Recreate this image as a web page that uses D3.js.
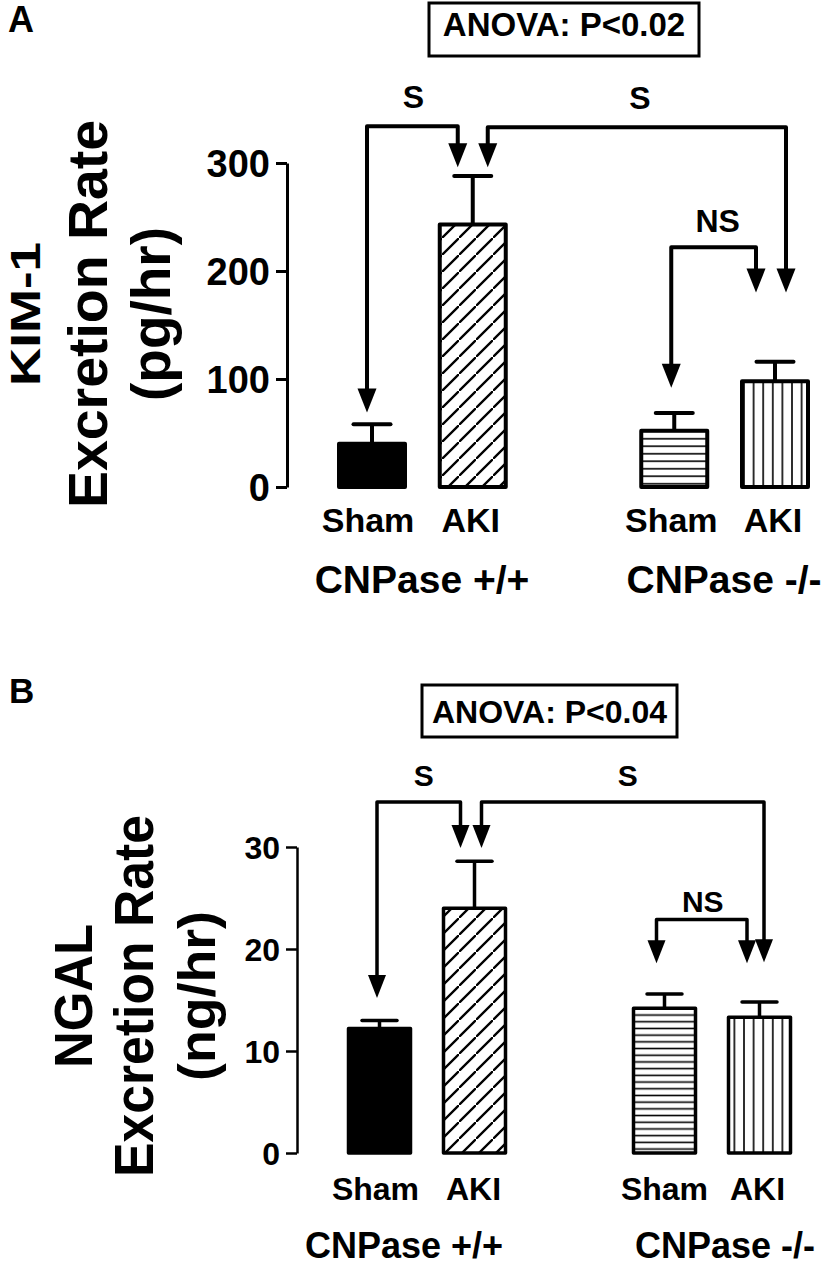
<!DOCTYPE html>
<html><head><meta charset="utf-8">
<script src="https://cdn.jsdelivr.net/npm/d3@7"></script>
<style>
body{margin:0;background:#fff}
svg text{font-family:"Liberation Sans",Arial,Helvetica,sans-serif;font-weight:bold;fill:#000}
</style>
</head><body>
<svg id="chart" width="825" height="1271"></svg>
<script>
// ---------- data ----------
const categories = ["Sham", "AKI", "Sham", "AKI"];
const groups = ["CNPase +/+", "CNPase -/-"];
const slots = [0, 1, 3, 4];
const fills = ["solid", "diag", "hlines", "vlines"];

const kimMean = [40, 243, 52, 98];
const kimSem = [18, 45, 16.5, 18];
const kimTicks = [0, 100, 200, 300];
const kimAnova = "ANOVA: P<0.02";
const kimBrackets = [
  {from: 0, to: 1, level: 334, tipFrom: 69, tipTo: 296, label: "S"},
  {from: 1, to: 3, level: 333, tipFrom: 296, tipTo: 180, label: "S"},
  {from: 2, to: 3, level: 222, tipFrom: 92, tipTo: 180, label: "NS"}
];

const ngalMean = [12.2, 24.0, 14.2, 13.3];
const ngalSem = [0.8, 4.6, 1.4, 1.5];
const ngalTicks = [0, 10, 20, 30];
const ngalAnova = "ANOVA: P<0.04";
const ngalBrackets = [
  {from: 0, to: 1, level: 34.4, tipFrom: 15.2, tipTo: 29.9, label: "S"},
  {from: 1, to: 3, level: 34.4, tipFrom: 29.9, tipTo: 18.7, label: "S"},
  {from: 2, to: 3, level: 22.9, tipFrom: 18.6, tipTo: 18.6, label: "NS"}
];

// ---------- drawing ----------
const svg = d3.select("#chart");
svg.append("rect").attr("width", 825).attr("height", 1271).attr("fill", "#fff");
const defs = svg.append("defs");

function makePatterns(suffix, hSpacing) {
  const pd = defs.append("pattern").attr("id", "diag" + suffix)
    .attr("patternUnits", "userSpaceOnUse").attr("width", 17).attr("height", 17);
  pd.append("rect").attr("width", 17).attr("height", 17).attr("fill", "#fff");
  pd.append("path").attr("d", "M-2,19 L19,-2 M-6,4 L4,-6 M13,23 L23,13")
    .attr("stroke", "#000").attr("stroke-width", 2.3);
  const ph = defs.append("pattern").attr("id", "hlines" + suffix)
    .attr("patternUnits", "userSpaceOnUse").attr("width", 10).attr("height", hSpacing);
  ph.append("rect").attr("width", 10).attr("height", hSpacing).attr("fill", "#fff");
  ph.append("line").attr("x1", 0).attr("x2", 10).attr("y1", hSpacing / 2).attr("y2", hSpacing / 2)
    .attr("stroke", "#000").attr("stroke-width", 1.6);
  const pv = defs.append("pattern").attr("id", "vlines" + suffix)
    .attr("patternUnits", "userSpaceOnUse").attr("width", 9.6).attr("height", 10);
  pv.append("rect").attr("width", 9.6).attr("height", 10).attr("fill", "#fff");
  pv.append("line").attr("x1", 4.8).attr("x2", 4.8).attr("y1", 0).attr("y2", 10)
    .attr("stroke", "#000").attr("stroke-width", 1.6);
}
makePatterns("A", 7.5);
makePatterns("B", 6.7);

function panel(cfg, mean, sem, ticks, anova, brackets) {
  const g = svg.append("g");
  const y = d3.scaleLinear().domain([ticks[0], ticks[ticks.length - 1]]).range(cfg.yRange);
  const x = d3.scaleLinear().domain([0, 4]).range(cfg.xRange);

  // panel letter
  g.append("text").attr("x", cfg.letterPos[0]).attr("y", cfg.letterPos[1])
    .attr("font-size", cfg.letterSize).text(cfg.letter);

  // y axis
  const ax = g.append("g").attr("transform", `translate(${cfg.axisX},0)`)
    .call(d3.axisLeft(y).tickValues(ticks).tickSize(11).tickSizeOuter(0).tickPadding(cfg.tickPad).tickFormat(d3.format("d")));
  ax.select(".domain").attr("stroke", "#000").attr("stroke-width", cfg.axisW);
  ax.selectAll(".tick line").attr("stroke", "#000").attr("stroke-width", cfg.axisW);
  ax.selectAll(".tick text").attr("font-size", cfg.tickSize).attr("dy", "0.36em");

  // y title (three lines, rotated)
  cfg.yTitle.forEach(t => {
    const tx = g.append("text")
      .attr("transform", `translate(${t.x},${cfg.yTitleCenter}) rotate(-90)`)
      .attr("text-anchor", "middle").attr("font-size", t.size).text(t.text);
    if (t.len) tx.attr("textLength", t.len).attr("lengthAdjust", "spacingAndGlyphs");
  });

  // bars
  const bw = cfg.barW;
  g.selectAll("rect.bar").data(mean).enter().append("rect")
    .attr("class", "bar")
    .attr("x", (d, i) => x(slots[i]) - bw / 2)
    .attr("width", bw)
    .attr("y", d => y(d))
    .attr("height", d => y(0) - y(d))
    .attr("fill", (d, i) => fills[i] === "solid" ? "#000" : `url(#${fills[i]}${cfg.letter})`)
    .attr("stroke", "#000").attr("stroke-width", cfg.barStroke)
    .attr("stroke-linejoin", "round");

  // error bars
  mean.forEach((m, i) => {
    const cx = x(slots[i]);
    g.append("line").attr("x1", cx).attr("x2", cx).attr("y1", y(m)).attr("y2", y(m + sem[i]))
      .attr("stroke", "#000").attr("stroke-width", cfg.barStroke);
    g.append("line").attr("x1", cx - cfg.capW / 2).attr("x2", cx + cfg.capW / 2)
      .attr("y1", y(m + sem[i])).attr("y2", y(m + sem[i]))
      .attr("stroke", "#000").attr("stroke-width", cfg.barStroke).attr("stroke-linecap", "round");
  });

  // category labels
  categories.forEach((c, i) => {
    g.append("text").attr("x", x(slots[i]) + cfg.catDx[i]).attr("y", cfg.catY)
      .attr("text-anchor", "middle").attr("font-size", cfg.catSize).text(c);
  });
  groups.forEach((gname, j) => {
    g.append("text").attr("x", cfg.groupX[j]).attr("y", cfg.groupY)
      .attr("text-anchor", "middle").attr("font-size", cfg.groupSize).text(gname);
  });

  // ANOVA box
  const b = cfg.anovaBox;
  g.append("rect").attr("x", b[0]).attr("y", b[1]).attr("width", b[2]).attr("height", b[3])
    .attr("fill", "#fff").attr("stroke", "#000").attr("stroke-width", 3);
  g.append("text").attr("x", b[0] + b[2] / 2).attr("y", cfg.anovaBase)
    .attr("text-anchor", "middle").attr("font-size", cfg.anovaSize).text(anova);

  // significance brackets with arrows
  const headL = cfg.headL, headW = cfg.headW;
  brackets.forEach((br, k) => {
    const x1 = x(slots[br.from]) + cfg.bracketDx[k][0];
    const x2 = x(slots[br.to]) + cfg.bracketDx[k][1];
    const yl = y(br.level);
    const t1 = y(br.tipFrom), t2 = y(br.tipTo);
    g.append("path")
      .attr("d", `M${x1},${t1 - headL + 2}V${yl}H${x2}V${t2 - headL + 2}`)
      .attr("fill", "none").attr("stroke", "#000").attr("stroke-width", cfg.bracketW)
      .attr("stroke-linejoin", "round");
    [[x1, t1], [x2, t2]].forEach(([ax_, ay]) => {
      g.append("path")
        .attr("d", `M${ax_ - headW / 2},${ay - headL}L${ax_ + headW / 2},${ay - headL}L${ax_},${ay}Z`)
        .attr("fill", "#000");
    });
    g.append("text").attr("x", (x1 + x2) / 2 + cfg.labelDx[k]).attr("y", yl - cfg.labelGap[k])
      .attr("text-anchor", "middle").attr("font-size", cfg.sigSize).text(br.label);
  });
}

panel({
  letter: "A", letterPos: [8, 32], letterSize: 36,
  yRange: [487, 163], xRange: [372, 775], axisX: 287, axisW: 3, tickPad: 6, tickSize: 38,
  yTitleCenter: 314,
  yTitle: [
    {text: "KIM-1", x: 40, size: 42, len: 144},
    {text: "Excretion Rate", x: 107, size: 55, len: 388},
    {text: "(pg/hr)", x: 170, size: 55, len: 174}
  ],
  barW: 66, barStroke: 4, capW: 37,
  catY: 532, catSize: 34, catDx: [-4, -2, -3, -2],
  groupX: [422, 724], groupY: 593, groupSize: 39,
  anovaBox: [429, 3, 270, 53], anovaBase: 36, anovaSize: 33,
  headL: 24, headW: 19, bracketW: 4,
  bracketDx: [[-5, -15], [15, 11], [-3, -19]],
  labelDx: [1, 3, 4], labelGap: [18, 18, 15], sigSize: 32
}, kimMean, kimSem, kimTicks, kimAnova, kimBrackets);

panel({
  letter: "B", letterPos: [9, 703], letterSize: 35,
  yRange: [1153, 847], xRange: [379.5, 759.5], axisX: 297, axisW: 2.5, tickPad: 6, tickSize: 32,
  yTitleCenter: 996,
  yTitle: [
    {text: "NGAL", x: 92, size: 54, len: 144},
    {text: "Excretion Rate", x: 153, size: 55, len: 362},
    {text: "(ng/hr)", x: 215, size: 52, len: 170}
  ],
  barW: 62, barStroke: 3.5, capW: 35,
  catY: 1200, catSize: 32, catDx: [-4, -1, 0, -2],
  groupX: [404, 725], groupY: 1258, groupSize: 36,
  anovaBox: [422, 685, 255, 52], anovaBase: 723, anovaSize: 32,
  headL: 23, headW: 18, bracketW: 3.5,
  bracketDx: [[-2.5, -14], [7, 4.5], [-8, -12.5]],
  labelDx: [5, 5, 1], labelGap: [16, 16, 7], sigSize: 30
}, ngalMean, ngalSem, ngalTicks, ngalAnova, ngalBrackets);
</script>
</body></html>
